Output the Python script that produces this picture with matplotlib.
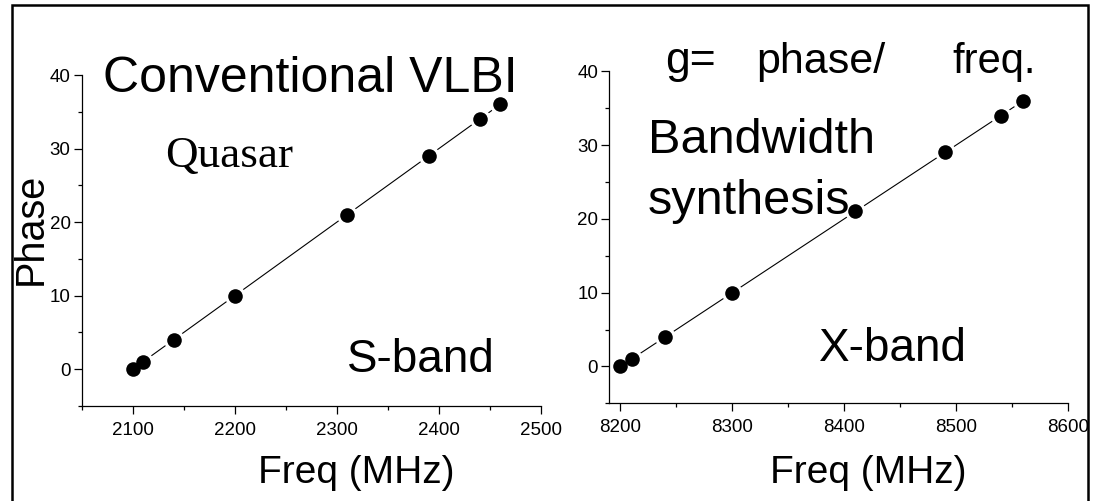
import matplotlib
matplotlib.use("Agg")
import matplotlib.pyplot as plt
from matplotlib.patches import Rectangle
from matplotlib.ticker import MultipleLocator

# ---- data ----
s_freq = [2100, 2110, 2140, 2200, 2310, 2390, 2440, 2460]
s_phase = [0, 1, 4, 10, 21, 29, 34, 36]
x_freq = [8200, 8210, 8240, 8300, 8410, 8490, 8540, 8560]
x_phase = [0, 1, 4, 10, 21, 29, 34, 36]
s_xticks = [2100, 2200, 2300, 2400, 2500]
x_xticks = [8200, 8300, 8400, 8500, 8600]
yticks = [0, 10, 20, 30, 40]

W, H = 1095, 501
DPI = 100
SANS = ["Liberation Sans", "DejaVu Sans"]
SERIF = ["Liberation Serif", "DejaVu Serif"]
plt.rcParams["font.family"] = SANS

fig = plt.figure(figsize=(W / DPI, H / DPI), dpi=DPI)
fig.patch.set_facecolor("white")


def fx(x):
    return x / W


def fy(y):
    return 1 - y / H


def make_ax(rect_px, xlim, xticks):
    l, t, r, b = rect_px
    ax = fig.add_axes([fx(l), fy(b), fx(r) - fx(l), fy(t) - fy(b)])
    ax.set_xlim(*xlim)
    ax.set_ylim(-5, 40)
    for s in ("top", "right"):
        ax.spines[s].set_visible(False)
    for s in ("left", "bottom"):
        ax.spines[s].set_linewidth(0.9)
    ax.set_xticks(xticks)
    ax.set_yticks(yticks)
    ax.xaxis.set_minor_locator(MultipleLocator(50))
    ax.yaxis.set_minor_locator(MultipleLocator(5))
    ax.tick_params(which="major", direction="out", length=5.5, width=0.9,
                   labelsize=13.5, color="black")
    ax.tick_params(which="minor", direction="out", length=3.2, width=0.9)
    ax.tick_params(axis="x", which="major", pad=6)
    ax.tick_params(axis="y", which="major", pad=2.5)
    ax.patch.set_alpha(0)
    return ax


def draw_series(ax, xs, ys):
    ax.plot(xs, ys, color="black", lw=0.8, zorder=1, clip_on=False)
    ax.plot(xs, ys, ls="none", marker="o", ms=15, mfc="white", mec="none",
            zorder=2, clip_on=False)
    ax.plot(xs, ys, ls="none", marker="o", ms=10.5, mfc="black", mec="none",
            zorder=3, clip_on=False)


ax1 = make_ax((81.7, 75, 541, 406), (2050, 2500), s_xticks)
draw_series(ax1, s_freq, s_phase)
ax2 = make_ax((609.3, 71.3, 1068, 403.3), (8190, 8600), x_xticks)
draw_series(ax2, x_freq, x_phase)

# ---- texts ----
def t(x, y, s, size, family=SANS, ha="left", **kw):
    fig.text(fx(x), fy(y), s, fontsize=size, family=family, ha=ha,
             va="baseline", **kw)

t(103, 92, "Conventional VLBI", 36)
t(165, 167, "Quasar", 32.5, family=SERIF)
t(347, 372, "S-band", 33)
t(356, 483, "Freq (MHz)", 28, ha="center")
fig.text(fx(41.5), fy(229), "Phase", fontsize=28.5, family=SANS, rotation=90,
         rotation_mode="anchor", ha="center", va="baseline")

t(665, 73, "g=", 32)
t(756, 73, "phase/", 31)
t(952, 73, "freq.", 30)
t(648, 153, "Bandwidth", 35)
t(648, 214, "synthesis", 35)
t(819, 361, "X-band", 33)
t(868, 483, "Freq (MHz)", 28, ha="center")

# outer frame
fig.add_artist(Rectangle((fx(12.3), fy(520)), fx(1088) - fx(12.3),
                         fy(4.7) - fy(520), transform=fig.transFigure,
                         fill=False, lw=1.8, ec="black", clip_on=False))

fig.savefig("out.png", dpi=DPI, facecolor="white")
